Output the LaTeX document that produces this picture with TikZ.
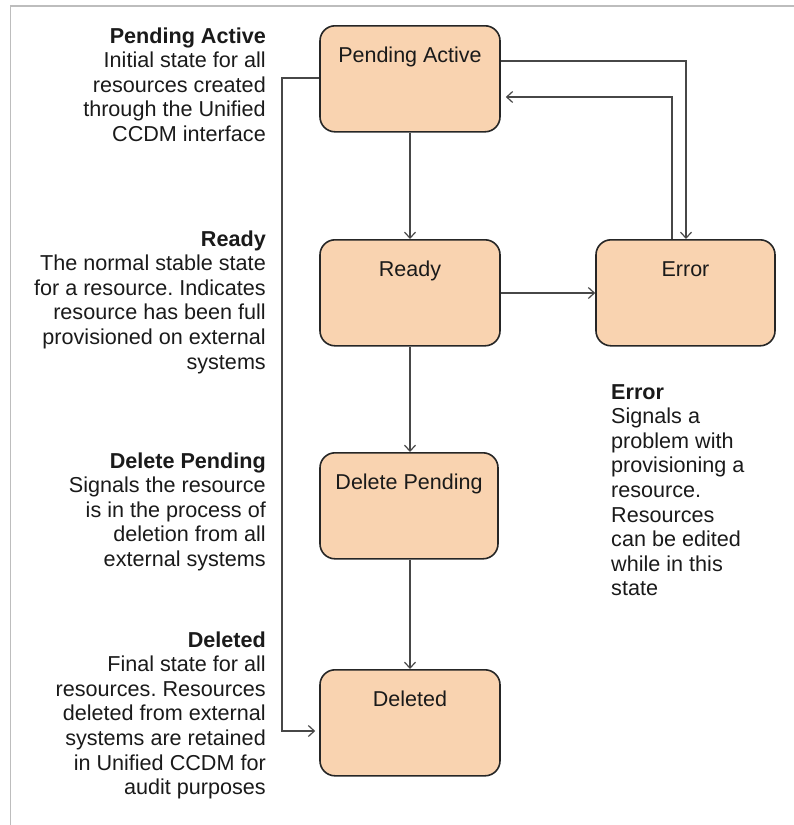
\documentclass[tikz,border=0pt]{standalone}
\usepackage{fontspec}
\setmainfont{Liberation Sans}
\usetikzlibrary{arrows.meta}
\definecolor{peach}{HTML}{F9D3B0}
\definecolor{txt}{HTML}{1A1A1A}
\definecolor{conn}{HTML}{474747}
\definecolor{frame}{HTML}{BDBDBD}
\frenchspacing
\begin{document}
\begin{tikzpicture}[x=1pt,y=-1pt,
  state/.style={draw=black!85, line width=1.6pt, fill=peach, rounded corners=15pt,
    minimum width=180pt, inner xsep=0pt, inner ysep=0pt,
    text height=37pt, text depth=69pt, anchor=north, text=txt,
    font=\fontsize{21.5}{24.6}\selectfont},
  desc/.style={inner sep=0pt, text=txt, font=\fontsize{21.6}{24.6}\selectfont},
  flow/.style={draw=conn, line width=1.2pt, -{Straight Barb[length=6pt,width=11pt,line width=1.2pt]}}
]
\useasboundingbox (0,0) rectangle (794,825);
\draw[frame, line width=1.2pt] (10.5,825) -- (10.5,6) -- (794,6);

% states
\node[state] (pa) at (410,25) {Pending Active};
\node[state] (ready) at (410,239) {Ready};
\node[state, minimum width=179pt] (err) at (685.5,239) {Error};
\node[state, minimum width=178pt] (dp) at (409,452) {Delete Pending};
\node[state] (del) at (410,669) {Deleted};

% descriptions (anchored at the baseline of their last line)
\node[desc, anchor=base east, align=right] (dpa) at (266,141.4)
  {\textbf{Pending Active}\\Initial state for all\\resources created\\through the Unified\\CCDM interface};
\node[desc, anchor=base east, align=right] (dready) at (266,369)
  {\textbf{Ready}\\The normal stable state\\for a resource. Indicates\\resource has been full\\provisioned on external\\systems};
\node[desc, anchor=base east, align=right] (ddp) at (266,566.4)
  {\textbf{Delete Pending}\\Signals the resource\\is in the process of\\deletion from all\\external systems};
\node[desc, anchor=base east, align=right] (ddel) at (266,794.6)
  {\textbf{Deleted}\\Final state for all\\resources. Resources\\deleted from external\\systems are retained\\in Unified CCDM for\\audit purposes};
\node[desc, anchor=base west, align=left] (derr) at (611,595.8)
  {\textbf{Error}\\Signals a\\problem with\\provisioning a\\resource.\\Resources\\can be edited\\while in this\\state};

% connectors
\draw[flow] (pa.south) -- (ready.north);
\draw[flow] (ready.south) -- (dp.north -| ready.south);
\draw[flow] (dp.south -| del.north) -- (del.north);
\draw[flow] (ready.east |- 0,293) -- (err.west |- 0,293);
\coordinate (c1) at (686,61);
\draw[flow] (pa.east |- c1) -- (c1) -- (err.north -| c1);
\coordinate (c2) at (672,97);
\draw[flow] (err.north -| c2) -- (c2) -- ([xshift=5pt]pa.east |- c2);
\coordinate (c3) at (282,78);
\coordinate (c4) at (282,731);
\draw[flow] (pa.west |- c3) -- (c3) -- (c4) -- ([xshift=-4pt]del.west |- c4);
\end{tikzpicture}
\end{document}
